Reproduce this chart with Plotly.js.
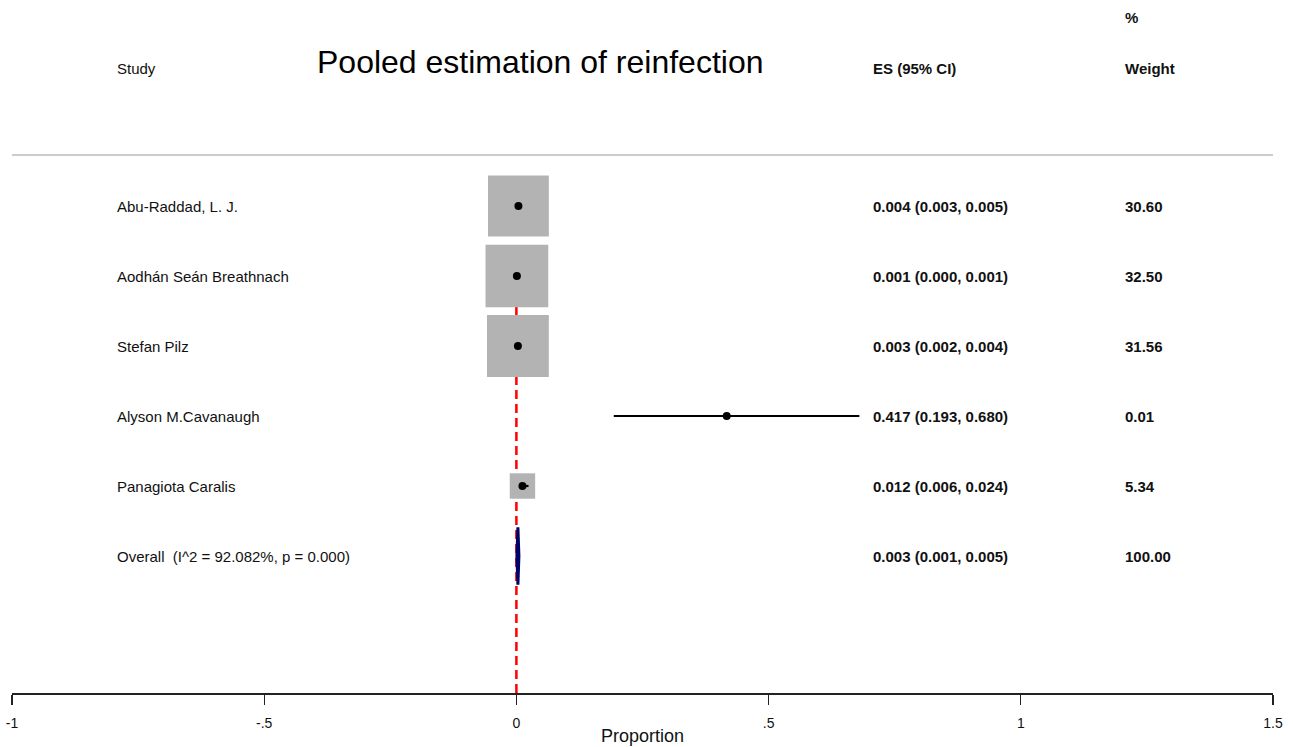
<!DOCTYPE html>
<html><head><meta charset="utf-8">
<script src="https://cdn.plot.ly/plotly-3.0.1.min.js"></script>
<style>html,body{margin:0;padding:0;background:#fff}#chart{width:1293px;height:747px}</style>
</head><body><div id="chart"></div>
<script>
// ---- data ----
const studies = ["Abu-Raddad, L. J.", "Aodhán Seán Breathnach", "Stefan Pilz", "Alyson M.Cavanaugh", "Panagiota Caralis"];
const es = [0.004, 0.001, 0.003, 0.417, 0.012];
const ciLow = [0.003, 0.000, 0.002, 0.193, 0.006];
const ciHigh = [0.005, 0.001, 0.004, 0.680, 0.024];
const weights = [30.60, 32.50, 31.56, 0.01, 5.34];
const overallLabel = "Overall  (I^2 = 92.082%, p = 0.000)";
const overallES = 0.003, overallLow = 0.001, overallHigh = 0.005;
const overallWeight = 100.00;
const xTickVals = [-1, -0.5, 0, 0.5, 1, 1.5];
const xTickText = ["-1", "-.5", "0", ".5", "1", "1.5"];

const fmt = v => v.toFixed(3);
const rows = studies.map((s, i) => i);
const overallRow = studies.length;

const traces = [];
// weight boxes
traces.push({
  type: 'scatter', mode: 'markers', x: es, y: rows, hoverinfo: 'skip',
  marker: {symbol: 'square', size: weights.map(w => 11 * Math.sqrt(w)), color: '#b3b3b3', opacity: 1, line: {width: 0}}
});
// CI lines
studies.forEach((s, i) => {
  traces.push({type: 'scatter', mode: 'lines', x: [ciLow[i], ciHigh[i]], y: [i, i], hoverinfo: 'skip',
    line: {color: '#000', width: 2.2}});
});
// point estimates
traces.push({type: 'scatter', mode: 'markers', x: es, y: rows, hoverinfo: 'skip',
  marker: {symbol: 'circle', size: 8, color: '#000', opacity: 1}});
// overall diamond
traces.push({type: 'scatter', mode: 'lines', fill: 'toself', fillcolor: '#000066', hoverinfo: 'skip',
  x: [overallLow, overallES, overallHigh, overallES, overallLow],
  y: [overallRow, overallRow - 0.41, overallRow, overallRow + 0.41, overallRow],
  line: {color: '#000066', width: 3}});

const F = 'Liberation Sans, Arial, sans-serif';
const ann = [];
const colStudy = -0.796, colES = 0.703, colW = 1.2026;
const addText = (x, y, t, size, bold) => ann.push({x: x, y: y, xref: 'x', yref: 'y', text: bold ? '<b>' + t + '</b>' : t,
  showarrow: false, xanchor: 'left', yanchor: 'middle', font: {family: F, size: size, color: '#111'}});
addText(colStudy, -1.971, 'Study', 15, false);
addText(colES, -1.971, 'ES (95% CI)', 15, true);
addText(colW, -1.971, 'Weight', 15, true);
addText(colW, -2.70, '%', 15, true);
studies.forEach((s, i) => {
  addText(colStudy, i, s, 15, false);
  addText(colES, i, fmt(es[i]) + ' (' + fmt(ciLow[i]) + ', ' + fmt(ciHigh[i]) + ')', 15, true);
  addText(colW, i, weights[i].toFixed(2), 15, true);
});
addText(colStudy, overallRow, overallLabel, 15, false);
addText(colES, overallRow, fmt(overallES) + ' (' + fmt(overallLow) + ', ' + fmt(overallHigh) + ')', 15, true);
addText(colW, overallRow, overallWeight.toFixed(2), 15, true);
ann.push({x: 0.0468, y: -2.06, xref: 'x', yref: 'y', text: 'Pooled estimation of reinfection', showarrow: false,
  xanchor: 'center', yanchor: 'middle', font: {family: F, size: 32, color: '#000'}});

const layout = {
  width: 1293, height: 747,
  margin: {l: 12, r: 20, t: 0, b: 54},
  paper_bgcolor: '#fff', plot_bgcolor: '#fff',
  showlegend: false,
  xaxis: {range: [-1, 1.5], tickvals: xTickVals, ticktext: xTickText, showgrid: false, zeroline: false,
    showline: true, linecolor: '#222', linewidth: 2, ticks: 'outside', ticklen: 10, tickcolor: '#222', tickwidth: 1.2,
    ticklabelstandoff: 6,
    tickfont: {family: F, size: 14, color: '#111'},
    title: {text: 'Proportion', font: {family: F, size: 18, color: '#111'}, standoff: 0}},
  yaxis: {range: [6.957, -2.943], visible: false, showgrid: false, zeroline: false},
  shapes: [
    {type: 'line', xref: 'paper', yref: 'y', x0: 0, x1: 1, y0: -0.729, y1: -0.729, line: {color: '#cccccc', width: 2}},
    {type: 'line', xref: 'x', yref: 'paper', x0: 0, x1: 0, y0: 0, y1: 1 - (0.686 + 2.943) / 9.9, line: {color: '#ff0000', width: 2.5, dash: '9px,5px'}, layer: 'below'}
  ],
  annotations: ann
};
Plotly.newPlot('chart', traces, layout, {staticPlot: true, displayModeBar: false});
</script></body></html>
